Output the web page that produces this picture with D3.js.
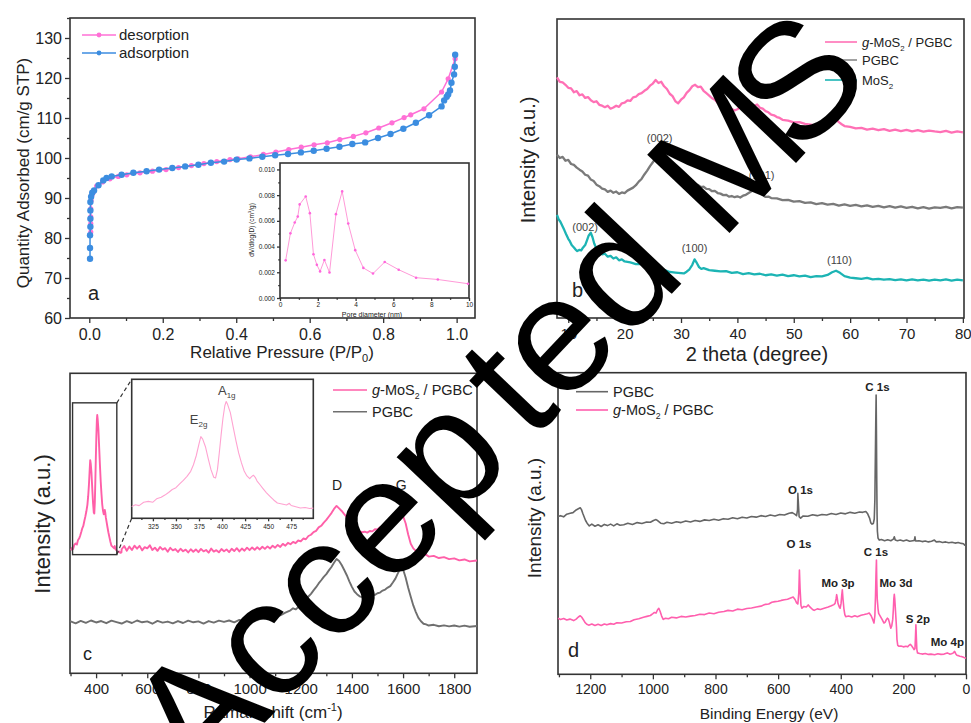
<!DOCTYPE html>
<html>
<head>
<meta charset="utf-8">
<script src="https://cdnjs.cloudflare.com/ajax/libs/d3/7.8.5/d3.min.js"></script>
<style>
body { margin: 0; background: #fff; }
svg { display: block; font-family: "Liberation Sans", Arial, sans-serif; }
</style>
</head>
<body>
<svg id="chart" width="971" height="723"></svg>
<script>
'use strict';

// ---- panel a: N2 isotherm (P/P0, cm3/g STP) ----
var adsorption = [[0.002,74.8],[0.002,77.5],[0.002,80.7],[0.003,82.8],[0.003,84.8],[0.003,86.9],[0.003,89.0],[0.005,90.3],[0.008,91.3],[0.013,91.9],[0.025,93.2],[0.038,94.4],[0.047,95.0],[0.061,95.4],[0.088,95.8],[0.12,96.3],[0.156,96.7],[0.19,97.1],[0.226,97.5],[0.261,97.9],[0.297,98.3],[0.331,98.8],[0.367,99.1],[0.401,99.6],[0.436,99.9],[0.471,100.3],[0.506,100.7],[0.541,101.0],[0.576,101.4],[0.611,101.8],[0.646,102.3],[0.681,102.8],[0.716,103.5],[0.751,103.9],[0.786,105.0],[0.82,106.0],[0.855,107.3],[0.889,108.8],[0.925,110.7],[0.959,112.9],[0.966,114.4],[0.973,115.3],[0.977,115.9],[0.982,116.9],[0.986,118.8],[0.993,120.9],[0.995,122.8],[0.996,125.8]];
var desorption = [[0.996,124.8],[0.977,119.8],[0.959,116.5],[0.911,112.3],[0.875,110.8],[0.857,110.1],[0.824,108.8],[0.788,107.5],[0.753,106.3],[0.719,105.4],[0.682,104.6],[0.648,103.8],[0.612,103.3],[0.577,102.7],[0.543,102.1],[0.508,101.5],[0.474,100.9],[0.439,100.3],[0.405,99.8],[0.383,99.6],[0.347,99.1],[0.312,98.6],[0.278,98.1],[0.243,97.6],[0.209,97.1],[0.172,96.7],[0.138,96.3],[0.102,95.8],[0.079,95.4],[0.056,94.8],[0.036,94.0],[0.020,93.0],[0.011,91.5],[0.007,90.7],[0.005,89.4],[0.004,87.3],[0.004,85.3],[0.004,83.6],[0.004,81.5]];
var poreD = [0.3,0.55,0.78,0.94,1.04,1.36,1.58,1.77,1.95,2.12,2.35,2.62,2.96,3.29,3.61,3.98,4.41,4.92,5.54,6.28,7.2,8.35,9.95];
var poreV = [0.00293,0.00503,0.00587,0.00633,0.00728,0.0079,0.0066,0.0034,0.00258,0.00207,0.00296,0.00198,0.00652,0.00829,0.00579,0.00372,0.00234,0.0019,0.0028,0.0022,0.00158,0.00144,0.00111];

// ---- panel b: XRD (2 theta, a.u.) ----
var xrdComposite = [[8,80.5],[8.5,79],[9,78.8],[9.5,78],[10,77],[10.5,76.8],[11,75.5],[11.5,75.9],[12,74.5],[12.5,74.8],[13,73.6],[13.5,73.9],[14,72.8],[14.5,72.2],[15,72.5],[15.5,71.3],[16,71],[16.5,70.5],[17,71],[17.5,70],[18,70.4],[18.5,71],[19,70.6],[19.5,71.8],[20,72],[20.5,72.8],[21,72.6],[21.5,73.8],[22,74],[22.5,74.9],[23,75.2],[23.5,76],[24,76.6],[24.5,77.7],[25,78.4],[25.5,79.6],[26,78.6],[26.5,79],[27,77.5],[27.5,76.6],[28,75],[28.5,74.2],[29,72.5],[29.5,71.8],[30,73],[30.5,73.8],[31,75.3],[31.5,76.2],[32,77.5],[32.5,78],[33,77.2],[33.5,77.4],[34,76],[34.5,75.2],[35,74.4],[35.5,73.5],[36,73],[36.5,72],[37,71.6],[37.5,70.6],[38,70.3],[38.5,69.6],[39,69.9],[39.5,69.4],[40,69.8],[40.5,70.5],[41,70.3],[41.5,71],[42,71.2],[42.5,71.6],[43,71],[43.5,71.4],[44,70.3],[44.5,70],[45,69.2],[45.5,68.8],[46,68],[46.5,67.8],[47,67.2],[47.5,66.9],[48,66.3],[49,66],[50,65.4],[51,65.5],[52,64.9],[53,64.7],[54,64.3],[55,64.9],[55.5,65.6],[56,66.6],[56.5,67.4],[57,67.2],[57.5,66.5],[58,65.5],[58.5,64.8],[59,64.2],[60,63.9],[61,63.4],[62,63.6],[63,63],[64,63.3],[65,62.8],[66,63.2],[67,62.6],[68,63],[69,62.5],[70,62.9],[71,62.4],[72,62.8],[73,62.3],[74,62.7],[75,62.4],[76,62.2],[77,62.6],[78,62],[79,62.4],[80,62.1]];
var xrdPGBC = [[8,54.6],[8.5,53.5],[9,53.9],[9.5,52.6],[10,52.9],[10.5,51.5],[11,51.2],[11.5,50.3],[12,49.6],[12.5,49],[13,47.9],[13.5,47.6],[14,46.3],[14.5,45.8],[15,44.6],[15.5,44.1],[16,43.3],[16.5,43],[17,42.2],[17.5,42.6],[18,41.9],[18.5,42.3],[19,41.5],[19.5,42],[20,41.8],[20.5,42.6],[21,43.1],[21.5,43.6],[22,44.4],[22.5,45.6],[23,46.5],[23.5,48],[24,49.3],[24.5,50.8],[25,52.1],[25.5,53.4],[26,54.6],[26.5,55.7],[27,55],[27.5,54.1],[28,52.4],[28.5,50.6],[29,49.2],[29.5,47.6],[30,47.1],[30.5,46.2],[31,46],[31.5,45.3],[32,45.4],[32.5,44.6],[33,44.5],[33.5,43.8],[34,43.9],[34.5,43.2],[35,43.1],[35.5,42.4],[36,42.5],[36.5,41.8],[37,41.6],[37.5,41.1],[38,41.2],[38.5,40.6],[39,40.8],[39.5,40.4],[40,40.7],[40.5,40.3],[41,40.9],[41.5,41.2],[42,41.8],[42.5,42.4],[43,42.9],[43.5,42.6],[44,41.9],[44.5,41.1],[45,40.5],[45.5,40.6],[46,40.1],[47,40],[48,39.4],[49,39.5],[50,38.9],[51,39.1],[52,38.5],[53,38.7],[54,38.1],[55,38.4],[56,37.9],[57,38.2],[58,37.6],[59,38],[60,37.5],[61,37.8],[62,37.3],[63,37.7],[64,37.2],[65,37.5],[66,37],[67,37.4],[68,36.9],[69,37.3],[70,36.8],[71,37.2],[72,36.7],[73,37.1],[74,36.6],[75,37],[76,36.8],[77,37.2],[78,36.7],[79,37.1],[80,36.9]];
var xrdMoS2 = [[8,34.5],[8.3,33],[8.6,32.2],[9,30.6],[9.3,29.4],[9.6,28.1],[10,26.5],[10.3,25.6],[10.6,24.4],[11,23.6],[11.3,22.9],[11.6,22.4],[12,22.8],[12.3,22.6],[12.6,23.5],[13,24.4],[13.3,25.9],[13.6,27.5],[14,28.5],[14.3,27],[14.6,24.9],[15,23.2],[15.5,22.3],[16,21.3],[16.5,21.5],[17,20.5],[17.5,20.8],[18,19.9],[18.5,20.3],[19,19.3],[19.5,19.6],[20,18.9],[21,18.6],[22,18],[23,18.1],[24,17.3],[25,17],[26,16.5],[27,16.1],[28,15.4],[29,15.2],[30,15],[30.5,14.9],[31,15.5],[31.5,16.3],[32,17.8],[32.4,19.6],[32.8,18.4],[33.2,17],[33.6,16.4],[34,16.7],[35,16],[36,15.8],[37,15.6],[38,15.7],[39,15.1],[40,15.3],[41,14.7],[42,15],[43,14.6],[44,14.8],[45,14.3],[46,14.6],[47,14.2],[48,14.5],[49,14],[50,14.3],[51,13.9],[52,14.2],[53,13.7],[54,14],[55,13.9],[56,14.4],[56.8,15.3],[57.5,15.8],[58.2,15.1],[59,14],[60,13.5],[61,13.3],[62,13.1],[63,13.4],[64,12.9],[65,13.1],[66,12.8],[67,13],[68,12.7],[69,12.9],[70,12.6],[71,12.9],[72,12.6],[73,12.8],[74,12.5],[75,12.8],[76,12.6],[77,12.9],[78,12.5],[79,12.8],[80,12.6]];
var xrdLabels = [['(002)',26.2,58.9],['(101)',44.3,46.5],['(002)',13,29.1],['(100)',32.4,22.1],['(110)',58.1,18.1]];

// ---- panel c: Raman (cm-1, a.u.) ----
var ramanLow = [[302,8.4],[306,9.8],[310,9.1],[315,11.5],[320,12.2],[325,11.6],[329,14],[334,15.1],[338,16.7],[342,18.6],[346,20.7],[350,22],[354,24.8],[358,27.3],[362,30.2],[366,33.8],[369,38.5],[372,45],[375,53.5],[377,58.8],[379,57],[382,51.5],[385,43],[388,35],[391,29.5],[393,29],[395,35],[397,47],[399,60],[401,72],[403,81],[404.5,84],[406,82],[409,76],[412,66],[415,56],[418,47],[421,40],[424,34],[427,30.5],[430,28.5],[432,30],[434,31],[436,29.5],[438,26.8],[441,24.3],[444,21.7],[448,18.5],[452,15.8],[456,13.2],[460,11],[465,10.3],[470,9.6],[473,10.8],[475,9.2],[480,8.3],[485,7.4],[490,7.8],[495,7],[499,7.3]];
var ramanComposite = [[500,9],[510,10.8],[520,8.2],[530,10.5],[540,8.6],[550,11],[560,9.3],[570,10.9],[580,8.4],[590,10.2],[600,9.5],[610,11.2],[620,8.6],[630,9.9],[640,8.1],[650,10.3],[660,8.8],[670,9.6],[680,7.6],[690,9.8],[700,8.4],[710,9.1],[720,7.5],[730,9.3],[740,7.9],[750,8.8],[760,7.2],[770,9],[780,7.6],[790,8.9],[800,7.4],[810,9.2],[820,7.8],[830,8.6],[840,7.1],[850,9.4],[860,7.7],[870,8.5],[880,7.3],[890,9.1],[900,7.9],[910,8.9],[920,7.4],[930,9.3],[940,8],[950,9.6],[960,7.8],[970,9.4],[980,8.2],[990,9.9],[1000,8.5],[1010,10],[1020,8.7],[1030,10.1],[1040,8.9],[1050,10.4],[1060,9.2],[1070,10.6],[1080,9.4],[1090,11],[1100,9.9],[1110,11.4],[1120,10.3],[1130,12],[1140,11],[1150,12.6],[1160,11.8],[1170,13.1],[1180,12.4],[1190,13.9],[1200,13.4],[1210,15],[1220,14.6],[1230,16.4],[1240,17.1],[1250,18.6],[1260,19.3],[1270,21.2],[1280,22.1],[1290,23.9],[1300,25.4],[1310,27.3],[1320,29.2],[1330,31.5],[1340,33.2],[1350,31.8],[1360,30.4],[1370,28.6],[1380,26.9],[1390,24.6],[1400,22],[1410,20.5],[1420,19.6],[1430,19],[1440,18.5],[1450,18.8],[1460,18.3],[1470,19.2],[1480,19],[1490,20.2],[1500,20],[1510,21.3],[1520,21.5],[1530,22.8],[1540,23],[1550,24.2],[1560,24.8],[1570,26],[1580,27.2],[1590,28.3],[1600,27.5],[1610,23.5],[1620,17.2],[1630,12.1],[1640,9.5],[1650,8.1],[1660,7],[1670,6.4],[1680,5.6],[1690,6],[1700,4.9],[1720,5.3],[1740,4.1],[1760,4.6],[1780,3.5],[1800,3.9],[1820,2.8],[1840,3.3],[1860,2.2],[1889,2.7]];
var ramanPGBC = [[298,-31.2],[320,-32.4],[340,-31],[360,-32.1],[380,-30.8],[400,-31.9],[420,-31.1],[440,-32.3],[460,-30.9],[480,-31.7],[500,-32.5],[520,-31.2],[540,-32.2],[560,-30.8],[580,-31.8],[600,-31.3],[620,-32.6],[640,-31],[660,-32],[680,-31.4],[700,-32.4],[720,-31.1],[740,-32.2],[760,-30.9],[780,-31.8],[800,-31.3],[820,-32.5],[840,-31.1],[860,-32],[880,-30.9],[900,-31.6],[920,-30.8],[940,-31.8],[960,-30.5],[980,-31.4],[1000,-30.6],[1020,-31.2],[1040,-30],[1060,-29.5],[1080,-29.9],[1100,-28.6],[1120,-27.9],[1140,-26.4],[1160,-25.1],[1170,-24],[1180,-24.6],[1190,-23.4],[1200,-21.8],[1210,-20.5],[1220,-19.2],[1230,-17.4],[1240,-15.9],[1250,-14],[1260,-12.2],[1270,-10.1],[1280,-8.3],[1290,-6.4],[1300,-4.9],[1310,-2.8],[1320,-0.9],[1330,1.5],[1340,3.6],[1350,2.5],[1360,0.2],[1370,-2.6],[1380,-5.5],[1390,-8.9],[1400,-12],[1410,-14.6],[1420,-16.1],[1430,-17.3],[1440,-17.8],[1450,-18.2],[1460,-17.6],[1470,-17.9],[1480,-16.8],[1490,-16.5],[1500,-15.6],[1510,-15.2],[1520,-14.1],[1530,-13.5],[1540,-12.4],[1550,-11.6],[1560,-9.6],[1570,-7.4],[1580,-4.3],[1590,-1.5],[1600,-2.2],[1610,-6.8],[1620,-12.5],[1630,-17.6],[1640,-22.4],[1650,-26.1],[1660,-29.3],[1670,-31.2],[1680,-32.6],[1690,-33],[1700,-33.6],[1720,-33.2],[1740,-34],[1760,-33.5],[1780,-34.1],[1800,-33.6],[1820,-34.2],[1840,-33.7],[1860,-34.3],[1889,-33.9]];
var ramanLabels = [['D',1342,42],['G',1593,42]];

// ---- panel d: XPS survey (eV, a.u.) ----
var xpsPGBC = [[1303,52.3],[1295,52.6],[1285,52.2],[1275,53.1],[1264,53.4],[1255,53.6],[1245,54.5],[1238,54.9],[1232,55.2],[1228,54.6],[1224,53.4],[1220,52.3],[1215,51],[1210,50.1],[1203,49.2],[1195,49.8],[1185,49.1],[1175,49.6],[1165,49],[1155,49.7],[1145,49.3],[1135,49.8],[1125,49.2],[1115,49.9],[1105,49.4],[1093,49.6],[1080,50.1],[1065,49.7],[1050,50.3],[1035,50],[1020,50.5],[1008,50.4],[998,51],[990,51.3],[984,50.9],[975,50.1],[965,49.9],[955,50.4],[940,50.1],[925,50.6],[910,50.3],[895,50.8],[880,50.5],[865,51],[850,50.7],[835,51.2],[820,51],[805,51.4],[790,51.1],[775,51.6],[760,51.4],[745,51.9],[730,51.6],[715,52.1],[700,51.8],[685,52.3],[670,52.1],[655,52.6],[640,52.3],[625,52.8],[610,52.5],[595,53],[580,52.8],[565,53.4],[555,53.6],[547,53.1],[541,52.6],[538,54.5],[537,60],[535,56],[533,52.3],[528,51.8],[520,52.5],[505,52.4],[490,52.9],[475,52.6],[460,53],[445,52.8],[430,53.3],[415,53],[400,53.5],[385,53.2],[370,53.7],[355,53.4],[340,53.8],[330,53.7],[320,54],[314,53.2],[308,51.8],[304,50.2],[300,49.8],[296,50],[293,51.5],[291,58],[289.5,72],[288,85],[287,92.6],[286,80],[285,64],[284,53],[283,47.5],[281,45.2],[277,44.5],[270,44.7],[260,44.3],[250,44.6],[240,44.3],[232,44.8],[229,45.6],[226,44.5],[219,44.3],[210,44.5],[200,44.2],[190,44.5],[180,44.1],[170,44.3],[165,44.4],[163,45.6],[161,44.2],[150,44.3],[140,44],[130,44.2],[120,43.9],[110,44.1],[101,44.5],[95,43.9],[85,44],[75,43.7],[65,43.9],[55,43.6],[45,43.8],[35,43.5],[25,43.7],[15,43.4],[8,43.3],[4,42.8],[0,42.9]];
var xpsComposite = [[1303,18.6],[1295,18.2],[1285,18.5],[1275,18],[1265,18.3],[1253,17.8],[1245,18.3],[1238,19],[1232,19.4],[1227,18.9],[1222,18.1],[1217,17.2],[1211,16.6],[1205,16.3],[1195,16.7],[1185,16.2],[1175,16.6],[1165,16.2],[1155,16.7],[1147,16.4],[1135,16.8],[1125,16.6],[1115,17.1],[1100,17],[1085,17.4],[1072,17.5],[1060,18.1],[1045,18.4],[1030,18.9],[1019,19.2],[1008,19.5],[1000,20.1],[995,20.5],[990,20.3],[985,21.4],[981,21.9],[977,20.9],[972,19.3],[967,18.2],[960,18.6],[950,18.4],[940,18.9],[925,18.7],[910,19.2],[895,19],[880,19.3],[865,19.5],[850,19.9],[835,19.8],[820,20.3],[805,20.1],[790,20.6],[773,20.8],[760,21.2],[745,21],[730,21.6],[715,21.4],[700,21.8],[685,22],[670,22.3],[655,22.6],[640,23.2],[630,23.3],[620,23.9],[610,24.1],[600,24.2],[590,24.5],[580,24.7],[570,24.9],[560,25.3],[552,25.6],[546,24.8],[541,23.7],[537,23.3],[534,27],[532,34.6],[530,28.5],[527,22.8],[524,21.9],[518,22.5],[510,22.3],[504,23],[497,22.2],[490,21.5],[485,21.2],[475,21.7],[465,21.5],[453,21.9],[440,22.3],[430,22.7],[422,23.1],[418,23.5],[415,25],[413,26.4],[411,25.2],[409,23.6],[405,22.4],[402,21.9],[399,23.5],[397,26],[395,28],[393,25.2],[390,21.8],[387,19.8],[384,19.1],[375,19.3],[365,19],[355,19.4],[347,19.1],[335,19.6],[325,19.8],[315,20.1],[309,20.3],[303,19.4],[298,18.2],[294,17],[291,19.5],[289,26],[287.5,33],[286,37.9],[285,31],[283.5,25],[281,21.8],[279,20.2],[274,19.3],[268,18.2],[262,17],[258,17.3],[254,18.2],[251,18.6],[248,18.3],[245,17.3],[242,16],[240,15.3],[237,16.1],[234,18.2],[232,21.5],[230.5,25],[229,26.5],[227.5,25],[226,22.5],[224,19],[222,15.5],[220.5,11.6],[218,9.6],[214,9.3],[208,9.4],[200,9.1],[192,9.3],[186,9.1],[182,9.6],[178,9.9],[174,9.5],[170,8.9],[166,8.2],[163,8.5],[161.5,12],[160,16.4],[158.5,12],[157,8.3],[155,7.1],[148,6.9],[140,6.7],[130,6.9],[120,6.6],[112,6.7],[100,6.5],[90,6.8],[80,6.6],[70,6.7],[60,7.1],[52,6.7],[46,6.8],[40,7.1],[37,7.6],[35,7.4],[33,6.8],[29,6.3],[25,6.2],[20,6],[15,5.9],[10,5.7],[5,5.5],[0,5.3]];
var xpsLabels = [['C 1s',282.6,93.8],['O 1s',528.5,59.8],['O 1s',533.3,41.9],['C 1s',287.4,39.1],['Mo 3p',408.7,29.1],['Mo 3d',223.5,29.1],['S 2p',154,17],['Mo 4p',59.6,9.4]];

var FRAME = '#333';
var TXT = '#222';
var GRAY = '#6f6f6f';
var TEAL = '#1cb4b4';

var svg = d3.select('#chart');

function frame(x, y) {
    svg.append('rect')
        .attr('x', x.range()[0]).attr('y', y.range()[1])
        .attr('width', x.range()[1] - x.range()[0])
        .attr('height', y.range()[0] - y.range()[1])
        .attr('fill', 'none').attr('stroke', FRAME).attr('stroke-width', 1.6);
}

function styleAxis(g, font) {
    g.attr('font-family', null).attr('font-size', null);
    g.selectAll('.domain').remove();
    g.selectAll('line').attr('stroke', FRAME).attr('stroke-width', 1.3);
    g.selectAll('text').attr('fill', TXT).attr('font-size', font);
}

function xAxis(x, y, majors, minors, fmt, font, size, pad) {
    var g = svg.append('g').attr('transform', 'translate(0,' + y.range()[0] + ')');
    g.call(d3.axisBottom(x).tickValues(majors).tickFormat(fmt).tickSize(size).tickPadding(pad));
    if (minors) {
        g.append('g').call(d3.axisBottom(x).tickValues(minors).tickFormat('').tickSize(size * 0.6));
    }
    styleAxis(g, font);
    return g;
}

function yAxis(x, y, majors, minors, fmt, font, size, pad) {
    var g = svg.append('g').attr('transform', 'translate(' + x.range()[0] + ',0)');
    g.call(d3.axisLeft(y).tickValues(majors).tickFormat(fmt).tickSize(size).tickPadding(pad));
    if (minors) {
        g.append('g').call(d3.axisLeft(y).tickValues(minors).tickFormat('').tickSize(size * 0.6));
    }
    styleAxis(g, font);
    return g;
}

function curve(x, y, data, color, width) {
    var line = d3.line().x(function (d) { return x(d[0]); }).y(function (d) { return y(d[1]); });
    svg.append('path').datum(data)
        .attr('d', line).attr('fill', 'none')
        .attr('stroke', color).attr('stroke-width', width).attr('stroke-linejoin', 'round');
}

function title(txt, x, y, size, rotate) {
    var t = svg.append('text').attr('font-size', size).attr('fill', TXT).attr('text-anchor', 'middle');
    if (rotate) {
        t.attr('transform', 'translate(' + x + ',' + y + ') rotate(-90)');
    } else {
        t.attr('x', x).attr('y', y);
    }
    return t.text(txt);
}

// text with script part: [plain, small, plain, shift]
function scriptTitle(parts, x, y, size, rotate) {
    var t = title('', x, y, size, rotate);
    t.append('tspan').text(parts[0]);
    t.append('tspan').attr('font-size', size * 0.65).attr('dy', parts[3]).text(parts[1]);
    t.append('tspan').attr('dy', -parts[3]).text(parts[2]);
    return t;
}

function compositeText(x, y, size) {
    var t = svg.append('text').attr('x', x).attr('y', y).attr('font-size', size).attr('fill', TXT);
    t.append('tspan').attr('font-style', 'italic').text('g');
    t.append('tspan').text('-MoS');
    t.append('tspan').attr('font-size', size * 0.6).attr('dy', size * 0.3).text('2');
    t.append('tspan').attr('dy', -size * 0.3).text(' / PGBC');
}

function legendLine(x0, x1, y, color) {
    svg.append('line').attr('x1', x0).attr('x2', x1).attr('y1', y).attr('y2', y)
        .attr('stroke', color).attr('stroke-width', 1.6);
}

function range(a, b, s) {
    return d3.range(a, b + s / 2, s);
}

// ================= panel a =================
var xA = d3.scaleLinear().domain([-0.0525, 1.05]).range([70, 475]);
var yA = d3.scaleLinear().domain([60, 135]).range([318, 18]);
frame(xA, yA);
xAxis(xA, yA, range(0, 1, 0.2), range(0.1, 0.9, 0.2), d3.format('.1f'), 16, 5, 6);
yAxis(xA, yA, range(60, 130, 10), range(65, 135, 10), d3.format('d'), 16, 5, 3);

var A_PINK = '#ff70d6';
var A_BLUE = '#3c8de0';
curve(xA, yA, desorption, A_PINK, 1.5);
svg.append('g').selectAll('circle').data(desorption).join('circle')
    .attr('cx', function (d) { return xA(d[0]); }).attr('cy', function (d) { return yA(d[1]); })
    .attr('r', 2.6).attr('fill', A_PINK);
curve(xA, yA, adsorption, A_BLUE, 1.5);
svg.append('g').selectAll('circle').data(adsorption).join('circle')
    .attr('cx', function (d) { return xA(d[0]); }).attr('cy', function (d) { return yA(d[1]); })
    .attr('r', 3.2).attr('fill', A_BLUE);

legendLine(82, 116, 35, A_PINK);
svg.append('circle').attr('cx', 99).attr('cy', 35).attr('r', 2.4).attr('fill', A_PINK);
svg.append('text').attr('x', 119).attr('y', 40).attr('font-size', 15).attr('fill', TXT).text('desorption');
legendLine(82, 116, 53, A_BLUE);
svg.append('circle').attr('cx', 99).attr('cy', 53).attr('r', 2.4).attr('fill', A_BLUE);
svg.append('text').attr('x', 119).attr('y', 58).attr('font-size', 15).attr('fill', TXT).text('adsorption');
svg.append('text').attr('x', 88).attr('y', 300).attr('font-size', 20).attr('fill', TXT).text('a');

scriptTitle(['Relative Pressure (P/P', '0', ')', 4], 282, 358, 17);
title('Quantity Adsorbed (cm/g STP)', 29, 173, 17, true);

// inset pore size distribution
var xAi = d3.scaleLinear().domain([0, 10]).range([280, 469]);
var yAi = d3.scaleLinear().domain([0, 0.0105]).range([298, 163]);
svg.append('rect').attr('x', 280).attr('y', 163).attr('width', 189).attr('height', 135).attr('fill', '#fff');
frame(xAi, yAi);
xAxis(xAi, yAi, range(0, 10, 2), range(1, 9, 2), d3.format('d'), 6.5, 3, 1);
yAxis(xAi, yAi, range(0, 0.010, 0.002), range(0.001, 0.009, 0.002), d3.format('.3f'), 6.5, 3, 2);
var pore = poreD.map(function (d, i) { return [d, poreV[i]]; });
curve(xAi, yAi, pore, '#ff9ad8', 1);
svg.append('g').selectAll('circle').data(pore).join('circle')
    .attr('cx', function (d) { return xAi(d[0]); }).attr('cy', function (d) { return yAi(d[1]); })
    .attr('r', 1.3).attr('fill', '#ff66dd');
title('Pore diameter (nm)', 372, 316.5, 7);
scriptTitle(['dV/dlog(D) (cm', '3', '/g)', -3], 254, 230, 6.5, true);

// ================= panel b =================
var xB = d3.scaleLinear().domain([8, 80.2]).range([557, 964]);
var yB = d3.scaleLinear().domain([0, 100]).range([318, 19]);
frame(xB, yB);
xAxis(xB, yB, range(10, 80, 10), range(15, 75, 10), d3.format('d'), 15, 5, 5);
curve(xB, yB, xrdComposite, '#ff70b5', 2.3);
curve(xB, yB, xrdPGBC, '#7a7a7a', 2.3);
curve(xB, yB, xrdMoS2, TEAL, 2.3);
svg.append('g').selectAll('text').data(xrdLabels).join('text')
    .attr('x', function (d) { return xB(d[1]); }).attr('y', function (d) { return yB(d[2]); })
    .attr('text-anchor', 'middle').attr('font-size', 11).attr('fill', '#444').text(function (d) { return d[0]; });
legendLine(825, 857, 42, '#ff70b5');
compositeText(862, 47, 13);
legendLine(825, 857, 60, '#8a8a8a');
svg.append('text').attr('x', 862).attr('y', 65).attr('font-size', 13).attr('fill', TXT).text('PGBC');
legendLine(825, 857, 80, TEAL);
var tb = svg.append('text').attr('x', 862).attr('y', 85).attr('font-size', 13).attr('fill', TXT);
tb.append('tspan').text('MoS');
tb.append('tspan').attr('font-size', 8).attr('dy', 4).text('2');
svg.append('text').attr('x', 572).attr('y', 297).attr('font-size', 20).attr('fill', TXT).text('b');
title('2 theta (degree)', 757, 361, 20);
title('Intensity (a.u.)', 535, 160, 20, true);

// ================= panel c =================
var xC = d3.scaleLinear().domain([298, 1889]).range([70, 477]);
var yC = d3.scaleLinear().domain([-60.3, 107.3]).range([673.3, 373.3]);
frame(xC, yC);
xAxis(xC, yC, range(400, 1800, 200), range(300, 1700, 200), d3.format('d'), 15, 5, 5);
curve(xC, yC, ramanPGBC, GRAY, 1.9);
curve(xC, yC, ramanLow.concat(ramanComposite), '#ff5fa8', 1.9);
svg.append('g').selectAll('text').data(ramanLabels).join('text')
    .attr('x', function (d) { return xC(d[1]); }).attr('y', function (d) { return yC(d[2]); })
    .attr('text-anchor', 'middle').attr('font-size', 14).attr('fill', TXT).text(function (d) { return d[0]; });

// zoom box + inset
var boxX0 = xC(308), boxX1 = xC(481), boxY0 = yC(90.8), boxY1 = yC(6);
svg.append('rect').attr('x', boxX0).attr('y', boxY0).attr('width', boxX1 - boxX0).attr('height', boxY1 - boxY0)
    .attr('fill', 'none').attr('stroke', FRAME).attr('stroke-width', 1.4);
var xCi = d3.scaleLinear().domain([302, 499]).range([131.7, 313.3]);
var yCi = d3.scaleLinear().domain([0, 100]).range([518.3, 379.3]);
svg.append('line').attr('x1', boxX1).attr('y1', boxY0).attr('x2', 131.7).attr('y2', 379.3)
    .attr('stroke', FRAME).attr('stroke-dasharray', '4,3').attr('stroke-width', 1.2);
svg.append('line').attr('x1', boxX1).attr('y1', boxY1).attr('x2', 131.7).attr('y2', 518.3)
    .attr('stroke', FRAME).attr('stroke-dasharray', '4,3').attr('stroke-width', 1.2);
svg.append('rect').attr('x', 131.7).attr('y', 379.3).attr('width', 181.6).attr('height', 139).attr('fill', '#fff');
frame(xCi, yCi);
xAxis(xCi, yCi, range(325, 475, 25), range(312.5, 487.5, 25), d3.format('d'), 6.5, 3, 3);
curve(xCi, yCi, ramanLow, '#ffa3d1', 1.1);
var e2g = svg.append('text').attr('x', xCi(365)).attr('y', yCi(67.5)).attr('font-size', 13).attr('fill', '#444');
e2g.append('tspan').text('E');
e2g.append('tspan').attr('font-size', 8).attr('dy', 3).text('2g');
var a1g = svg.append('text').attr('x', xCi(395.6)).attr('y', yCi(89)).attr('font-size', 13).attr('fill', '#444');
a1g.append('tspan').text('A');
a1g.append('tspan').attr('font-size', 8).attr('dy', 3).text('1g');

legendLine(333, 367, 390, '#ff5fa8');
compositeText(372, 395, 14.5);
legendLine(333, 367, 411.7, GRAY);
svg.append('text').attr('x', 372).attr('y', 417).attr('font-size', 14.5).attr('fill', TXT).text('PGBC');
svg.append('text').attr('x', 83).attr('y', 660).attr('font-size', 18).attr('fill', TXT).text('c');
scriptTitle(['Raman shift (cm', '-1', ')', -7], 273, 718, 17);
title('Intensity (a.u.)', 50, 524, 22, true);

// ================= panel d =================
var xD = d3.scaleLinear().domain([1303, 0]).range([558, 966]);
var yD = d3.scaleLinear().domain([0, 100]).range([674.3, 372.7]);
frame(xD, yD);
xAxis(xD, yD, range(0, 1200, 200), range(100, 1300, 200), d3.format('d'), 14, 5, 5);
curve(xD, yD, xpsPGBC, '#666', 1.6);
curve(xD, yD, xpsComposite, '#ff5fae', 1.6);
svg.append('g').selectAll('text').data(xpsLabels).join('text')
    .attr('x', function (d) { return xD(d[1]); }).attr('y', function (d) { return yD(d[2]); })
    .attr('text-anchor', 'middle').attr('font-size', 11.5).attr('font-weight', 'bold').attr('fill', TXT)
    .text(function (d) { return d[0]; });
legendLine(576, 608, 391.7, '#666');
svg.append('text').attr('x', 613).attr('y', 397).attr('font-size', 14.5).attr('fill', TXT).text('PGBC');
legendLine(576, 608, 410, '#ff5fae');
compositeText(613, 415, 14.5);
svg.append('text').attr('x', 568).attr('y', 657).attr('font-size', 20).attr('fill', TXT).text('d');
title('Binding Energy (eV)', 769, 719, 15.5);
title('Intensity (a.u.)', 541, 518, 19, true);

// ================= watermark =================
var wm = svg.append('text')
    .attr('transform', 'translate(200,791) rotate(-46.5)')
    .attr('font-size', 165)
    .attr('fill', '#000');
wm.append('tspan').text('Accep');
wm.append('tspan').attr('dx', 22).text('ted M');
wm.append('tspan').attr('dx', -22).text('S');
</script>
